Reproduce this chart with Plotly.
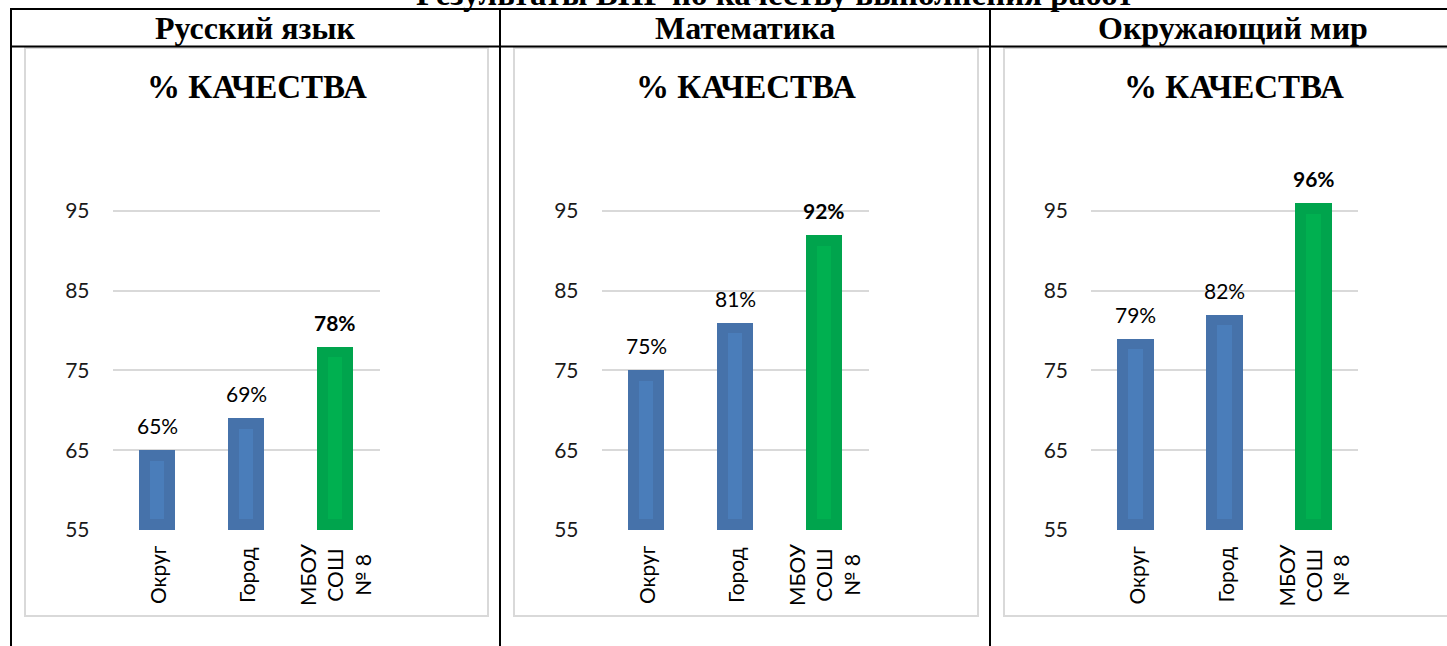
import plotly.graph_objects as go

W, H = 1447, 646

page_title = "Результаты ВПР по качеству выполнения работ"
subjects = ["Русский язык", "Математика", "Окружающий мир"]
chart_title = "% КАЧЕСТВА"
categories = ["Округ", "Город", "МБОУ СОШ № 8"]
category_labels = ["Округ", "Город", "МБОУ<br>СОШ<br>№ 8"]
russian = [65, 69, 78]
math = [75, 81, 92]
world = [79, 82, 96]
series = [russian, math, world]
y_ticks = [55, 65, 75, 85, 95]
y_min, y_max = 55, 100

outer_colors = ["#4672AA", "#4672AA", "#00A44D"]
inner_colors = ["#4A7DBA", "#4A7DBA", "#00B050"]

SERIF = "Liberation Serif, Times New Roman, serif"
SANS = "Lato, Open Sans, sans-serif"


def px(x):
    return x / W


def py(y):
    return 1 - y / H


# layout geometry (page pixels)
plot_left = [112.5, 601.5, 1091]
plot_w = 267
plot_top_px, plot_bot_px = 171.1, 530
header_cx = [255.5, 745, 1233]
title_cx = [256.5, 746, 1234]
box_x = [(25, 488), (514, 978), (1004, 1470)]

fig = go.Figure()
annotations = []
shapes = []

inset = 1.35  # inner highlight inset in value units

for i, vals in enumerate(series):
    xa = "x" if i == 0 else f"x{i+1}"
    ya = "y" if i == 0 else f"y{i+1}"
    fig.add_trace(go.Bar(
        x=categories, y=[v - y_min for v in vals], base=y_min,
        marker=dict(color=outer_colors, line=dict(width=0)),
        width=0.405, xaxis=xa, yaxis=ya, showlegend=False, hoverinfo="skip",
    ))
    fig.add_trace(go.Bar(
        x=categories, y=[v - y_min - 2 * inset for v in vals], base=y_min + inset,
        marker=dict(color=inner_colors, line=dict(width=0)),
        width=0.165, xaxis=xa, yaxis=ya, showlegend=False, hoverinfo="skip",
    ))
    # data labels
    for j, (c, v) in enumerate(zip(categories, vals)):
        txt = f"<b>{v}%</b>" if j == 2 else f"{v}%"
        annotations.append(dict(
            x=c, y=v, xref=xa, yref=ya, text=txt, showarrow=False,
            yanchor="bottom", yshift=10,
            font=dict(family=SANS, size=21, color="#000000"),
        ))
    # category labels
    for c, lab in zip(categories, category_labels):
        annotations.append(dict(
            x=c, y=py(575), xref=xa, yref="paper", text=lab, showarrow=False,
            textangle=-90, xanchor="center", yanchor="middle", align="center",
            font=dict(family=SANS, size=21, color="#000000"),
        ))
    # chart title
    annotations.append(dict(
        x=px(title_cx[i]), y=py(87), xref="paper", yref="paper",
        text=f"<b>{chart_title}</b>", showarrow=False, xanchor="center", yanchor="middle",
        font=dict(family=SERIF, size=33, color="#000000"),
    ))
    # subject header
    annotations.append(dict(
        x=px(header_cx[i]), y=py(28), xref="paper", yref="paper",
        text=f"<b>{subjects[i]}</b>", showarrow=False, xanchor="center", yanchor="middle",
        font=dict(family=SERIF, size=32, color="#000000"),
    ))
    # chart box
    shapes.append(dict(
        type="rect", xref="paper", yref="paper",
        x0=px(box_x[i][0]), x1=px(box_x[i][1]), y0=py(616), y1=py(48),
        line=dict(color="#D9D9D9", width=2), layer="below",
    ))

    axis_x = dict(
        domain=[px(plot_left[i]), px(plot_left[i] + plot_w)],
        type="category", range=[-0.5, 2.5], showticklabels=False,
        showgrid=False, zeroline=False, showline=False, fixedrange=True,
        anchor=ya, automargin=False,
    )
    axis_y = dict(
        domain=[py(plot_bot_px), py(plot_top_px)], range=[y_min, y_max],
        tickvals=y_ticks, showgrid=True, gridcolor="#D9D9D9", gridwidth=2,
        zeroline=False, showline=False, ticks="", ticklabelstandoff=22,
        tickfont=dict(family=SANS, size=21, color="#1a1a1a"),
        anchor=xa, automargin=False, fixedrange=True,
    )
    fig.layout[("xaxis" if i == 0 else f"xaxis{i+1}")] = axis_x
    fig.layout[("yaxis" if i == 0 else f"yaxis{i+1}")] = axis_y

# cut-off page title
annotations.append(dict(
    x=px(774), y=py(-6), xref="paper", yref="paper",
    text=f"<b>{page_title}</b>", showarrow=False, xanchor="center", yanchor="middle",
    font=dict(family=SERIF, size=33, color="#000000"),
))

# table lines
line_k = dict(color="#000000", width=2)
shapes += [
    dict(type="line", xref="paper", yref="paper", x0=px(10), x1=px(1470), y0=py(9), y1=py(9), line=line_k),
    dict(type="line", xref="paper", yref="paper", x0=px(10), x1=px(1470), y0=py(46.5), y1=py(46.5), line=line_k),
    dict(type="line", xref="paper", yref="paper", x0=px(11), x1=px(11), y0=py(8), y1=py(670), line=line_k),
    dict(type="line", xref="paper", yref="paper", x0=px(500), x1=px(500), y0=py(8), y1=py(670), line=line_k),
    dict(type="line", xref="paper", yref="paper", x0=px(990), x1=px(990), y0=py(8), y1=py(670), line=line_k),
]

fig.update_layout(
    width=W, height=H, margin=dict(l=0, r=0, t=0, b=0, pad=0, autoexpand=False),
    paper_bgcolor="white", plot_bgcolor="white",
    barmode="overlay", bargap=0, showlegend=False,
    annotations=annotations, shapes=shapes,
)

fig.write_html(
    "out.html",
    config={"displayModeBar": False, "staticPlot": True},
    post_script="document.body.style.margin='0';document.body.style.overflow='hidden';",
)
